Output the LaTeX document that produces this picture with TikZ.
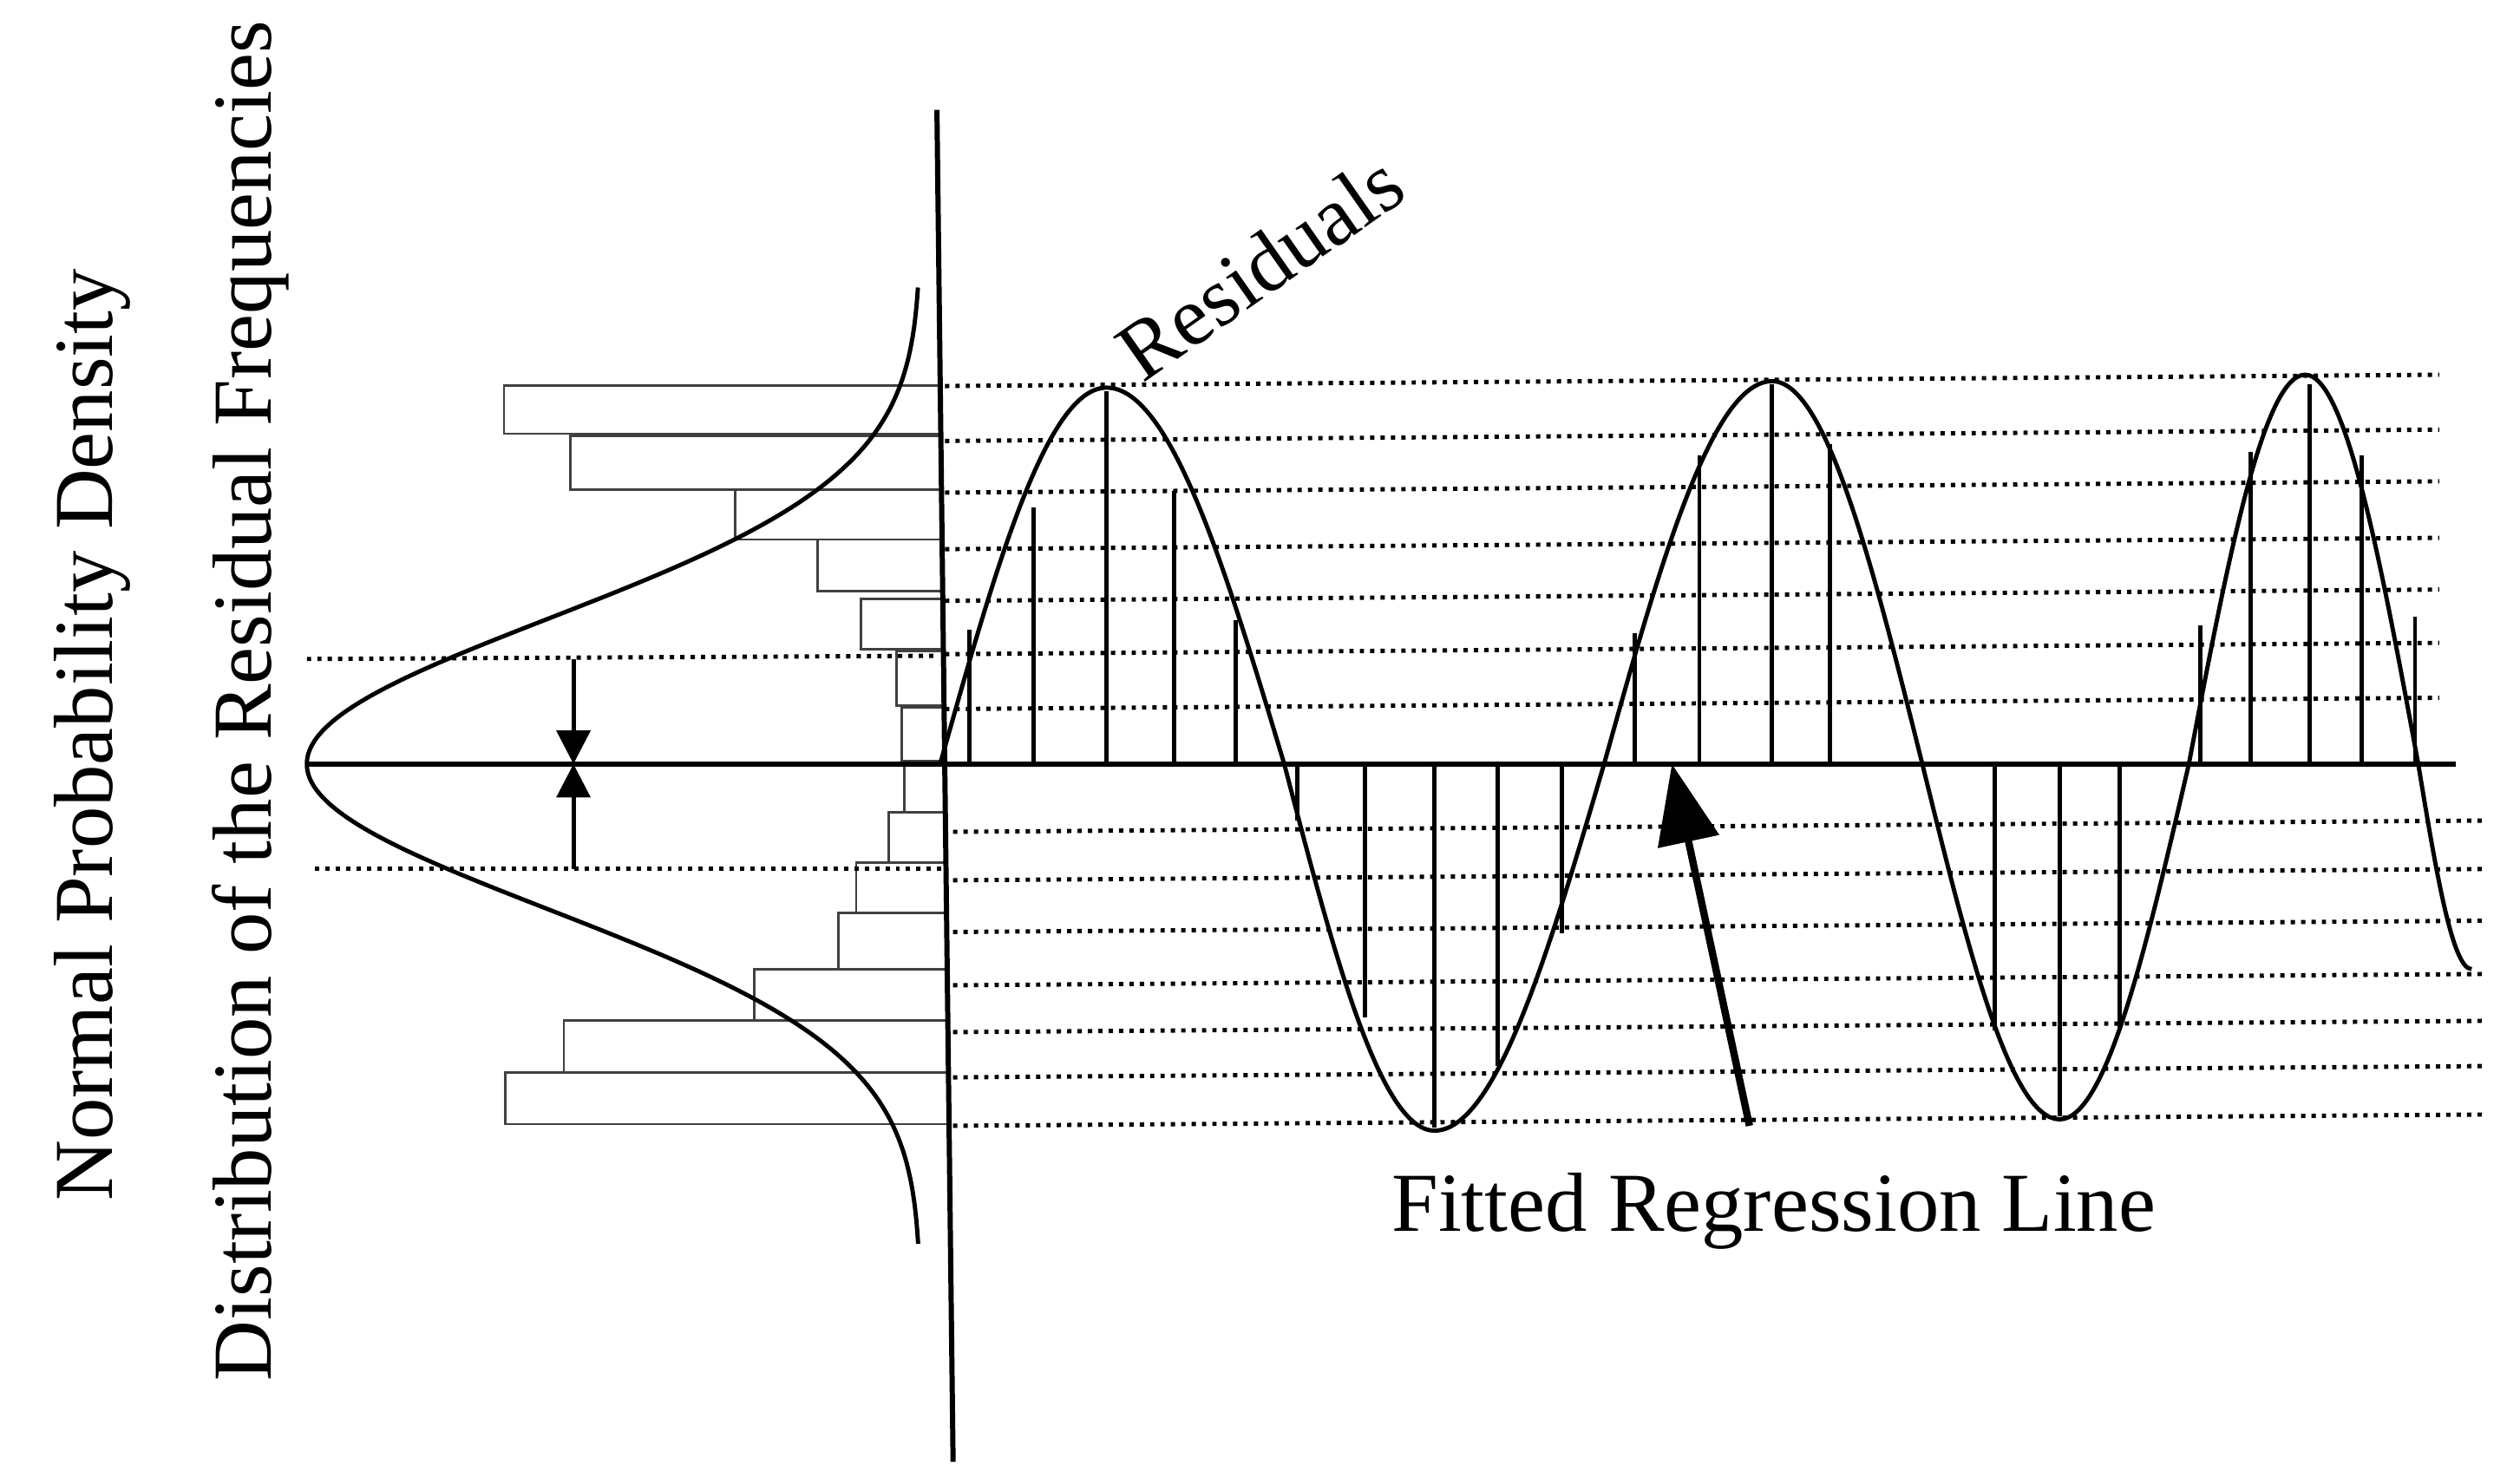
\documentclass[tikz,border=0pt]{standalone}
\usepackage{fontspec}
\setmainfont{Liberation Serif}
\usetikzlibrary{arrows.meta, positioning}
\tikzset{
  lbl/.style={font=\fontsize{27.5}{32}\selectfont, inner sep=0pt},
  grid/.style={dotted, line width=1.4pt},
  bar/.style={draw=black!75, line width=0.8pt},
  resid/.style={line width=1.4pt},
}
\begin{document}
\begin{tikzpicture}[x=0.018622cm, y=-0.018622cm]
		\useasboundingbox (0,0) rectangle (1560,915);
		% axes
		\coordinate (vtop) at (580,68);
		\coordinate (vbot) at (590,905);
		\coordinate (hleft) at (190,473);
		\coordinate (hright) at (1520,473);
		% histogram bars
		\foreach \l/\t/\b in {312/238.5/268.5, 353/270/303, 455/303/334, 506/334/366, 533/371/402, 555/403/437, 558/438/471,
		                      560/471/503, 550/503/534, 530/534/565, 519/565/600, 467/600/632, 349/632/664, 313/664/696}
		  \draw[bar] (\l,\t) rectangle ({580+(\b-68)/83.7},\b);
		% dotted levels
		\foreach \y in {232, 266, 298, 333, 365, 398, 432}
		  \draw[grid] (585,\y+7) -- (1510,\y);
		\foreach \y in {508, 538, 570, 603, 632, 660, 690}
		  \draw[grid] (590,\y+7) -- (1540,\y);
		\draw[grid] (190,408) -- (580,406);
		\draw[grid] (195,538) -- (585,538);
		% axes lines
		\draw[line width=1.7pt] (vtop) -- (vbot);
		\draw[line width=1.7pt] (hleft) -- (hright);
		% normal density
		\draw[line width=1.4pt, domain=178:770, samples=120, smooth]
		  plot ({570-380*exp(-((\x-473)/90)^2/2)}, \x);
		% residuals curve
		\draw[line width=1.4pt] (582,473) sin (685,240) cos (795,473) sin (888,700) cos (993,473)
		  sin (1097,236) cos (1190,473) sin (1275,693) cos (1355,473) sin (1427,232) cos (1497,473) sin (1530,600);
		\foreach \x/\y in {600/390, 640/314, 685/242, 727/304, 765/384, 803/508, 845/630, 888/698, 927/660, 967/578,
		                   1012/392, 1052/282, 1097/238, 1133/275, 1235/638, 1275/691, 1312/638,
		                   1362/387, 1393/280, 1430/238, 1462/282, 1495/382}
		  \draw[resid] (\x,473) -- (\x,\y);
		% deviation marker
		\coordinate (mtop) at (355,408);
		\coordinate (mbot) at (355,538);
		\coordinate (mmid) at (355,473);
		\draw[resid, -{Triangle[length=11pt, width=11pt]}] (mtop) -- (mmid);
		\draw[resid, -{Triangle[length=11pt, width=11pt]}] (mbot) -- (mmid);
		% labels
		\node[lbl] (fit) at (1098,750) {Fitted Regression Line};
		\coordinate (tip) at (1035,473);
		\draw[line width=2.4pt, -{Triangle[length=26pt, width=20pt]}] (1083,697) -- (tip);
		\node[lbl, rotate=35] (res) at (780,165) {Residuals};
		\node[lbl, rotate=90] (npd) at (57,455) {Normal Probability Density};
		\node[lbl, rotate=90] (dist) at (155,434) {Distribution of the Residual Frequencies};
	\end{tikzpicture}
\end{document}
